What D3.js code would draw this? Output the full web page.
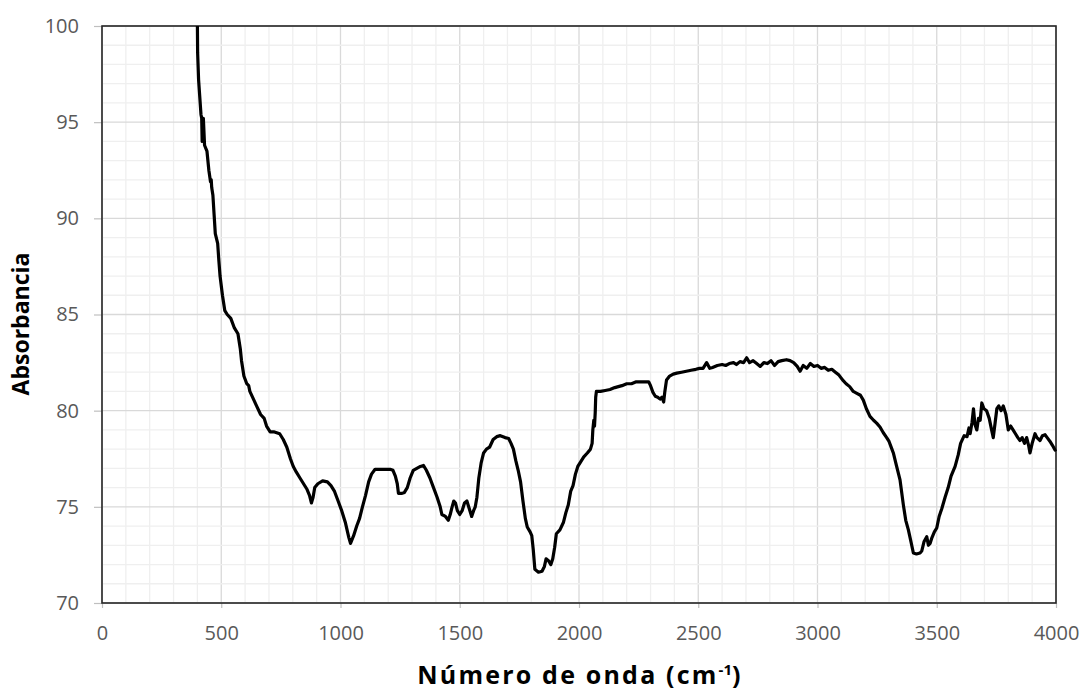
<!DOCTYPE html>
<html>
<head>
<meta charset="utf-8">
<script src="https://cdn.jsdelivr.net/npm/d3@7"></script>
<style>
  html, body { margin: 0; padding: 0; background: #fff; }
  svg { display: block; }
</style>
</head>
<body>
<svg id="chart" width="1081" height="691"></svg>
<script>
// ---- data ----
const xTicks = [0, 500, 1000, 1500, 2000, 2500, 3000, 3500, 4000];
const yTicks = [70, 75, 80, 85, 90, 95, 100];
const xTitle = "Número de onda (cm";
const xTitleSup = "-1";
const xTitleEnd = ")";
const yTitle = "Absorbancia";

const wavenumber = [400,401,405,415,418,420,425,430,440,448,455,458,460,465,470,475,485,490,495,505,515,525,540,555,570,580,585,595,607,615,620,635,650,665,680,690,705,720,745,760,775,790,802,815,830,845,860,870,878,885,892,905,925,945,960,975,990,1005,1020,1035,1042,1055,1068,1080,1092,1105,1118,1130,1145,1170,1190,1208,1220,1230,1238,1243,1258,1268,1280,1292,1305,1320,1335,1348,1360,1375,1390,1405,1418,1425,1440,1452,1460,1468,1475,1482,1490,1500,1510,1520,1530,1540,1550,1558,1565,1572,1580,1590,1600,1612,1625,1640,1655,1670,1690,1705,1715,1725,1735,1745,1755,1765,1775,1783,1795,1802,1808,1815,1830,1845,1855,1862,1872,1882,1890,1898,1905,1920,1935,1945,1955,1965,1975,1985,1995,2005,2020,2035,2048,2055,2058,2062,2065,2068,2070,2073,2090,2110,2130,2150,2165,2180,2200,2220,2240,2260,2280,2292,2300,2310,2320,2330,2340,2348,2355,2360,2367,2380,2395,2410,2430,2450,2470,2490,2505,2520,2535,2548,2560,2580,2600,2615,2630,2648,2660,2675,2690,2703,2715,2730,2745,2760,2775,2790,2805,2820,2835,2850,2870,2885,2900,2915,2927,2940,2955,2970,2985,3000,3015,3030,3045,3060,3075,3090,3105,3120,3135,3150,3165,3180,3192,3205,3220,3235,3248,3262,3276,3290,3300,3312,3318,3330,3346,3360,3370,3381,3390,3402,3415,3430,3437,3447,3458,3465,3472,3480,3490,3500,3510,3521,3535,3548,3560,3577,3590,3600,3615,3627,3635,3640,3648,3654,3660,3668,3675,3682,3689,3698,3709,3720,3730,3737,3745,3752,3760,3770,3779,3790,3800,3810,3820,3830,3840,3849,3858,3868,3877,3885,3891,3900,3912,3920,3933,3943,3954,3963,3975,3985,3996,4000];
const absorbance = [100,98.6,97.2,95.4,95.2,94.0,95.2,93.8,93.5,92.5,91.9,92.0,91.6,91.2,90.2,89.2,88.7,87.8,87.0,86.0,85.2,85.0,84.8,84.3,84.0,83.2,82.6,81.8,81.4,81.3,81.0,80.6,80.2,79.8,79.6,79.2,78.9,78.9,78.8,78.5,78.1,77.5,77.1,76.8,76.5,76.2,75.9,75.6,75.2,75.5,76.0,76.2,76.35,76.3,76.1,75.8,75.3,74.8,74.2,73.4,73.1,73.5,74.0,74.4,75.0,75.6,76.3,76.7,76.95,76.95,76.95,76.95,76.9,76.6,76.2,75.7,75.7,75.75,76.0,76.5,76.9,77.0,77.1,77.15,76.9,76.5,76.0,75.5,75.0,74.6,74.5,74.3,74.6,75.0,75.3,75.2,74.8,74.6,74.8,75.2,75.3,74.9,74.5,74.8,75.0,75.5,76.5,77.3,77.8,78.0,78.1,78.5,78.65,78.7,78.6,78.55,78.3,78.0,77.4,76.9,76.3,75.3,74.4,73.95,73.7,73.5,72.8,71.75,71.6,71.65,71.9,72.3,72.2,72.0,72.3,72.9,73.6,73.8,74.2,74.7,75.1,75.8,76.1,76.7,77.1,77.3,77.6,77.8,78.0,78.3,79.0,79.5,79.2,79.9,80.7,81.0,81.0,81.05,81.1,81.2,81.25,81.3,81.4,81.4,81.5,81.5,81.5,81.5,81.3,80.95,80.75,80.7,80.6,80.7,80.45,81.0,81.6,81.8,81.9,81.95,82.0,82.05,82.1,82.15,82.2,82.2,82.5,82.2,82.25,82.35,82.4,82.35,82.45,82.5,82.4,82.55,82.5,82.75,82.5,82.6,82.45,82.3,82.5,82.45,82.6,82.35,82.55,82.6,82.65,82.6,82.5,82.3,82.05,82.35,82.2,82.45,82.3,82.35,82.2,82.25,82.1,82.15,82.0,81.85,81.6,81.4,81.25,81.0,80.9,80.8,80.55,80.1,79.7,79.5,79.35,79.15,78.85,78.6,78.4,78.0,77.8,77.2,76.4,75.1,74.3,73.8,73.3,72.6,72.55,72.6,72.7,73.2,73.45,73.0,73.1,73.4,73.7,73.9,74.5,74.9,75.5,76.0,76.6,77.1,77.7,78.3,78.7,78.65,79.1,78.8,79.4,80.1,79.3,79.0,79.6,79.5,80.4,80.1,80.0,79.6,79.0,78.6,79.4,80.1,80.25,80.0,80.25,79.8,79.0,79.2,79.0,78.8,78.6,78.45,78.6,78.3,78.6,78.2,77.8,78.3,78.8,78.6,78.45,78.7,78.75,78.6,78.4,78.2,77.95,78.0];

// ---- layout ----
const svg = d3.select("#chart");
const mLeft = 102, mRight = 1056, mTop = 26, mBottom = 603;

const x = d3.scaleLinear().domain([0, 4000]).range([mLeft, mRight]);
const y = d3.scaleLinear().domain([70, 100]).range([mBottom, mTop]);

// grid
const g = svg.append("g");
g.selectAll(".vgrid").data(d3.range(0, 4001, 100)).join("line")
  .attr("x1", d => x(d)).attr("x2", d => x(d))
  .attr("y1", mTop).attr("y2", mBottom)
  .attr("stroke", d => d % 500 === 0 ? "#d9d9d9" : "#efefef")
  .attr("stroke-width", 1.3);
g.selectAll(".hgrid").data(d3.range(70, 100.01, 1)).join("line")
  .attr("y1", d => y(d)).attr("y2", d => y(d))
  .attr("x1", mLeft).attr("x2", mRight)
  .attr("stroke", d => d % 5 === 0 ? "#d9d9d9" : "#efefef")
  .attr("stroke-width", 1.3);

// axes
const xAxis = d3.axisBottom(x).tickValues(xTicks).tickSize(5).tickPadding(18).tickFormat(d3.format("d"));
const yAxis = d3.axisLeft(y).tickValues(yTicks).tickSize(8).tickPadding(15).tickFormat(d3.format("d"));

const gx = svg.append("g").attr("transform", `translate(0,${mBottom})`).call(xAxis);
const gy = svg.append("g").attr("transform", `translate(${mLeft},0)`).call(yAxis);
[gx, gy].forEach(a => {
  a.select(".domain").remove();
  a.selectAll(".tick line").attr("stroke", "#bfbfbf").attr("stroke-width", 1.2);
  a.selectAll(".tick text").attr("fill", "#595959")
    .style("font-family", "'Open Sans', 'DejaVu Sans', sans-serif")
    .style("font-size", "20px");
});

// plot border
svg.append("rect")
  .attr("x", mLeft).attr("y", mTop)
  .attr("width", mRight - mLeft).attr("height", mBottom - mTop)
  .attr("fill", "none").attr("stroke", "#262626").attr("stroke-width", 1.6);

// line
const line = d3.line().x((d, i) => x(wavenumber[i])).y(d => y(d));
svg.append("path")
  .datum(absorbance)
  .attr("d", line)
  .attr("fill", "none")
  .attr("stroke", "#000")
  .attr("stroke-width", 3.2)
  .attr("stroke-linejoin", "round");

// titles
const xt = svg.append("text")
  .attr("x", 580).attr("y", 684)
  .attr("text-anchor", "middle")
  .style("font-family", "'Open Sans', 'DejaVu Sans', sans-serif")
  .style("font-weight", "bold").style("font-size", "25px")
  .style("letter-spacing", "2.2px")
  .attr("fill", "#000");
xt.append("tspan").text(xTitle);
xt.append("tspan").text(xTitleSup).attr("dy", -9).style("font-size", "15px").style("letter-spacing", "0px");
xt.append("tspan").text(xTitleEnd).attr("dy", 9);

svg.append("text")
  .attr("transform", `translate(29,324) rotate(-90)`)
  .attr("text-anchor", "middle")
  .style("font-family", "'Open Sans', 'DejaVu Sans', sans-serif")
  .style("font-weight", "bold").style("font-size", "23px")
  .attr("fill", "#000")
  .text(yTitle);
</script>
</body>
</html>
